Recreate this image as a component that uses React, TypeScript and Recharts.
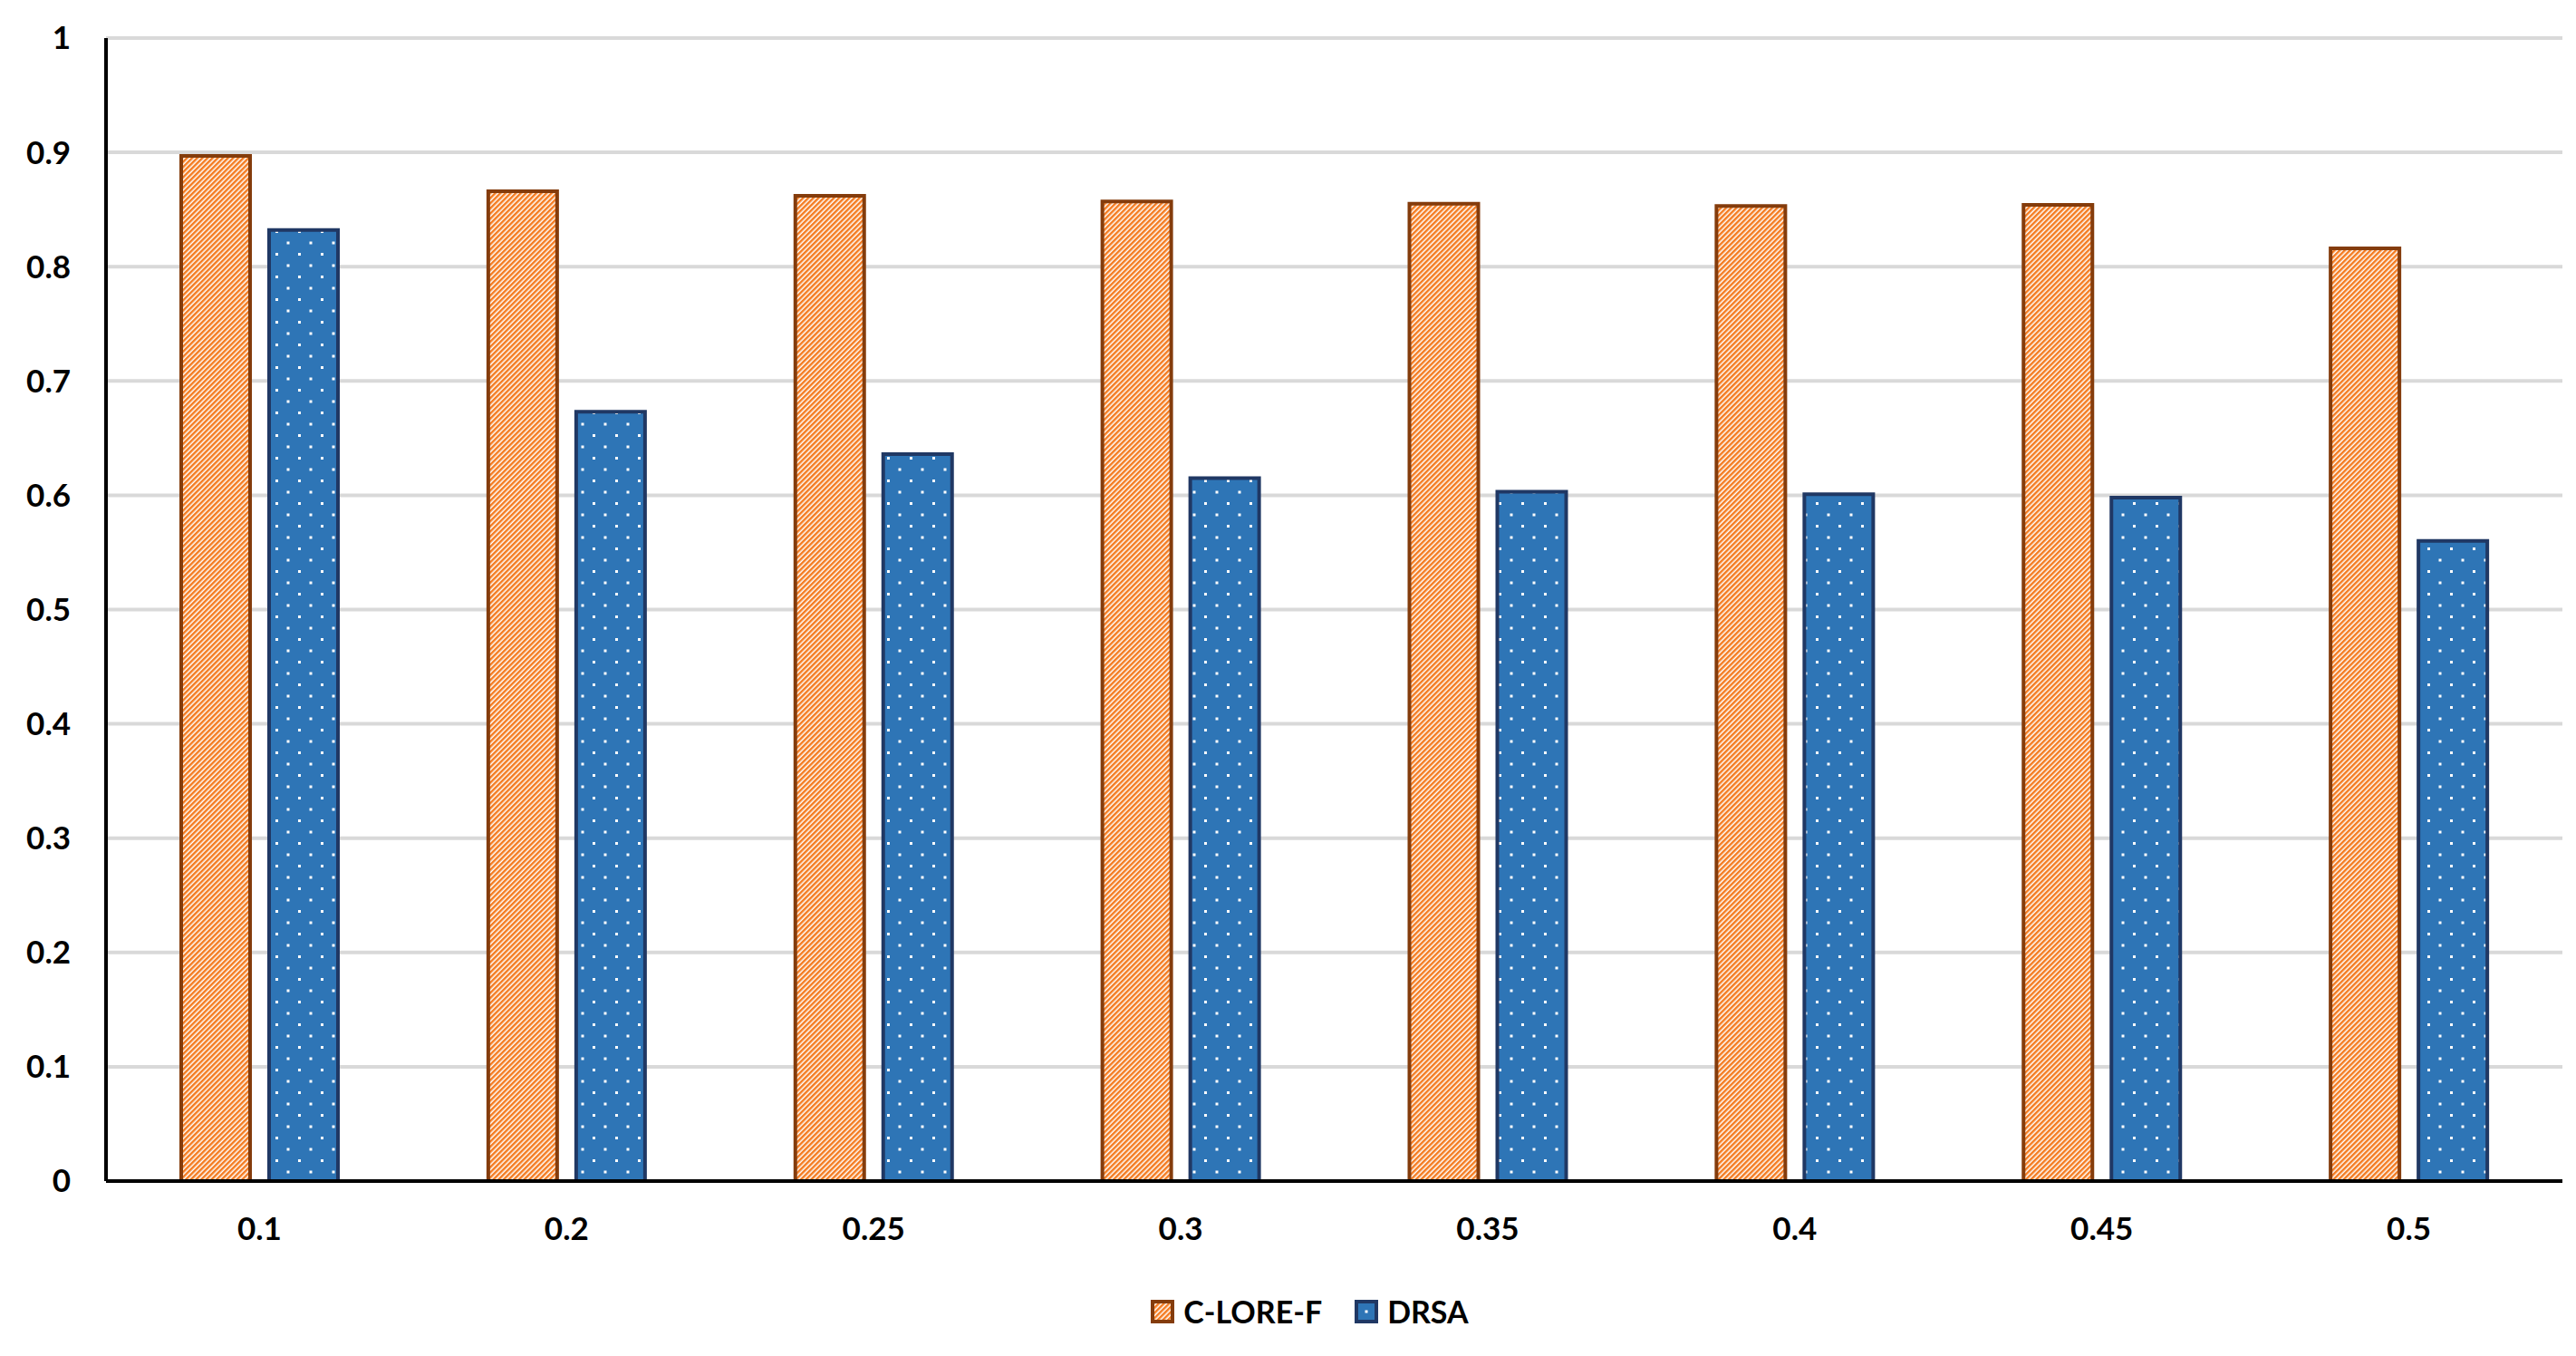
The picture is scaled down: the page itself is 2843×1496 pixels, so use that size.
import { BarChart, Bar, XAxis, YAxis, CartesianGrid, Legend } from "recharts";

const thresholds = ["0.1", "0.2", "0.25", "0.3", "0.35", "0.4", "0.45", "0.5"];
const cloreF = [0.897, 0.866, 0.862, 0.857, 0.855, 0.853, 0.854, 0.816];
const drsa = [0.832, 0.673, 0.636, 0.615, 0.603, 0.601, 0.598, 0.56];
const yTicks = [0, 0.1, 0.2, 0.3, 0.4, 0.5, 0.6, 0.7, 0.8, 0.9, 1];

const data = thresholds.map((t, i) => ({ t, cloreF: cloreF[i], drsa: drsa[i] }));

const font = "Lato, 'Open Sans', sans-serif";

const LegendSwatch = ({ kind }: { kind: string }) => (
  <svg width={26} height={26} style={{ display: "block" }}>
    <rect
      x={2}
      y={2}
      width={22}
      height={22}
      fill={kind === "cloreF" ? "url(#stripes)" : "#2E75B6"}
      stroke={kind === "cloreF" ? "#843C0C" : "#203864"}
      strokeWidth={4}
    />
    {kind === "drsa" && <rect x={11.5} y={11.5} width={3} height={3} fill="#fff" />}
  </svg>
);

const renderLegend = (props: any) => {
  const { payload } = props;
  return (
    <div style={{ display: "flex", justifyContent: "center", alignItems: "center", gap: 36 }}>
      {payload.map((entry: any) => (
        <div key={entry.dataKey} style={{ display: "flex", alignItems: "center", gap: 10 }}>
          <LegendSwatch kind={entry.dataKey} />
          <span style={{ fontFamily: font, fontWeight: 700, fontSize: 34, color: "#000" }}>{entry.value}</span>
        </div>
      ))}
    </div>
  );
};

const App = () => {
  return (
    <div style={{ position: "absolute", left: 0, top: 0, background: "#fff" }}>
      <BarChart
        width={2843}
        height={1496}
        data={data}
        margin={{ top: 42, right: 15, left: 0, bottom: 0 }}
        barSize={76}
        barGap={21}
      >
        <defs>
          <pattern id="stripes" patternUnits="userSpaceOnUse" width={4} height={4} patternTransform="rotate(45)">
            <rect x={0} y={0} width={4} height={4} fill="#ffffff" />
            <rect x={0} y={0} width={2.5} height={4} fill="#F47B20" />
          </pattern>
          <pattern id="dots" patternUnits="userSpaceOnUse" width={25} height={25}>
            <rect x={0} y={0} width={25} height={25} fill="#2E75B6" />
            <rect x={4} y={4} width={3} height={3} fill="#ffffff" />
            <rect x={16.5} y={16.5} width={3} height={3} fill="#ffffff" />
          </pattern>
        </defs>
        <CartesianGrid vertical={false} stroke="#D9D9D9" strokeWidth={4} />
        <XAxis
          dataKey="t"
          height={133}
          axisLine={{ stroke: "#000", strokeWidth: 4 }}
          tickLine={false}
          tickSize={0}
          tickMargin={40}
          tick={{ fill: "#000", fontFamily: font, fontWeight: 700, fontSize: 35 }}
        />
        <XAxis
          xAxisId="top"
          dataKey="t"
          orientation="top"
          height={0}
          tick={false}
          tickLine={false}
          axisLine={{ stroke: "#000", strokeWidth: 4 }}
        />
        <YAxis
          domain={[0, 1]}
          ticks={yTicks}
          width={117}
          axisLine={{ stroke: "#000", strokeWidth: 4 }}
          tickLine={false}
          tickSize={0}
          tickMargin={39}
          tick={{ fill: "#000", fontFamily: font, fontWeight: 700, fontSize: 35 }}
        />
        <YAxis
          yAxisId="right"
          orientation="right"
          domain={[0, 1]}
          width={0}
          tick={false}
          tickLine={false}
          axisLine={{ stroke: "#000", strokeWidth: 4 }}
        />
        <Legend
          verticalAlign="bottom"
          height={60}
          content={renderLegend}
          wrapperStyle={{ top: 1426, left: 24, width: 2843 }}
        />
        <Bar
          dataKey="cloreF"
          name="C-LORE-F"
          fill="url(#stripes)"
          stroke="#843C0C"
          strokeWidth={4}
          isAnimationActive={false}
        />
        <Bar
          dataKey="drsa"
          name="DRSA"
          fill="url(#dots)"
          stroke="#203864"
          strokeWidth={4}
          isAnimationActive={false}
        />
      </BarChart>
    </div>
  );
};

export default App;
